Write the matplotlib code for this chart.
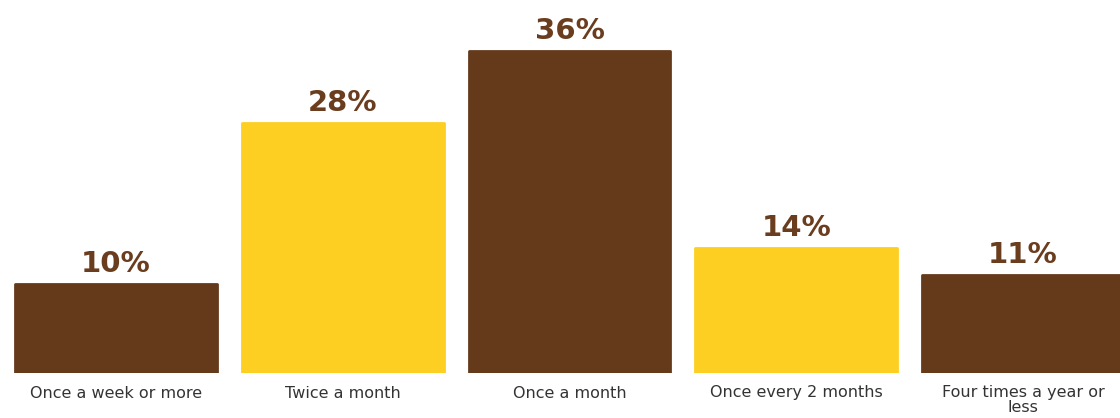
import matplotlib
matplotlib.use("Agg")
import matplotlib.pyplot as plt

categories = ["Once a week or more", "Twice a month", "Once a month",
              "Once every 2 months", "Four times a year or\nless"]
values = [10, 28, 36, 14, 11]
value_labels = ["10%", "28%", "36%", "14%", "11%"]

BROWN = "#653a1b"
YELLOW = "#fccf22"
colors = [BROWN, YELLOW, BROWN, YELLOW, BROWN]

plt.rcParams['font.family'] = ['DejaVu Sans']
fig = plt.figure(figsize=(11.2, 4.18), dpi=100)
ax = fig.add_axes([0, 1 - 373 / 418, 1, 373 / 418])

x = list(range(len(categories)))
bars = ax.bar(x, values, width=0.89, color=colors, edgecolor=colors,
              linewidth=2, joinstyle='round')

for b, lab in zip(bars, value_labels):
    ax.annotate(lab, (b.get_x() + b.get_width() / 2, b.get_height()),
                xytext=(0, 4), textcoords='offset points',
                ha='center', va='bottom', fontsize=21, fontweight='bold',
                color="#6b3d1f")

ax.set_xlim(-0.512, 4.428)
ax.set_ylim(0, 41.7)
ax.set_xticks(x)
ax.set_xticklabels(categories, fontsize=11.5, color="#333333",
                   linespacing=1.0)
ax.tick_params(axis='x', length=0, pad=9)
ax.set_yticks([])
for s in ax.spines.values():
    s.set_visible(False)

fig.savefig("out.png", dpi=100)
